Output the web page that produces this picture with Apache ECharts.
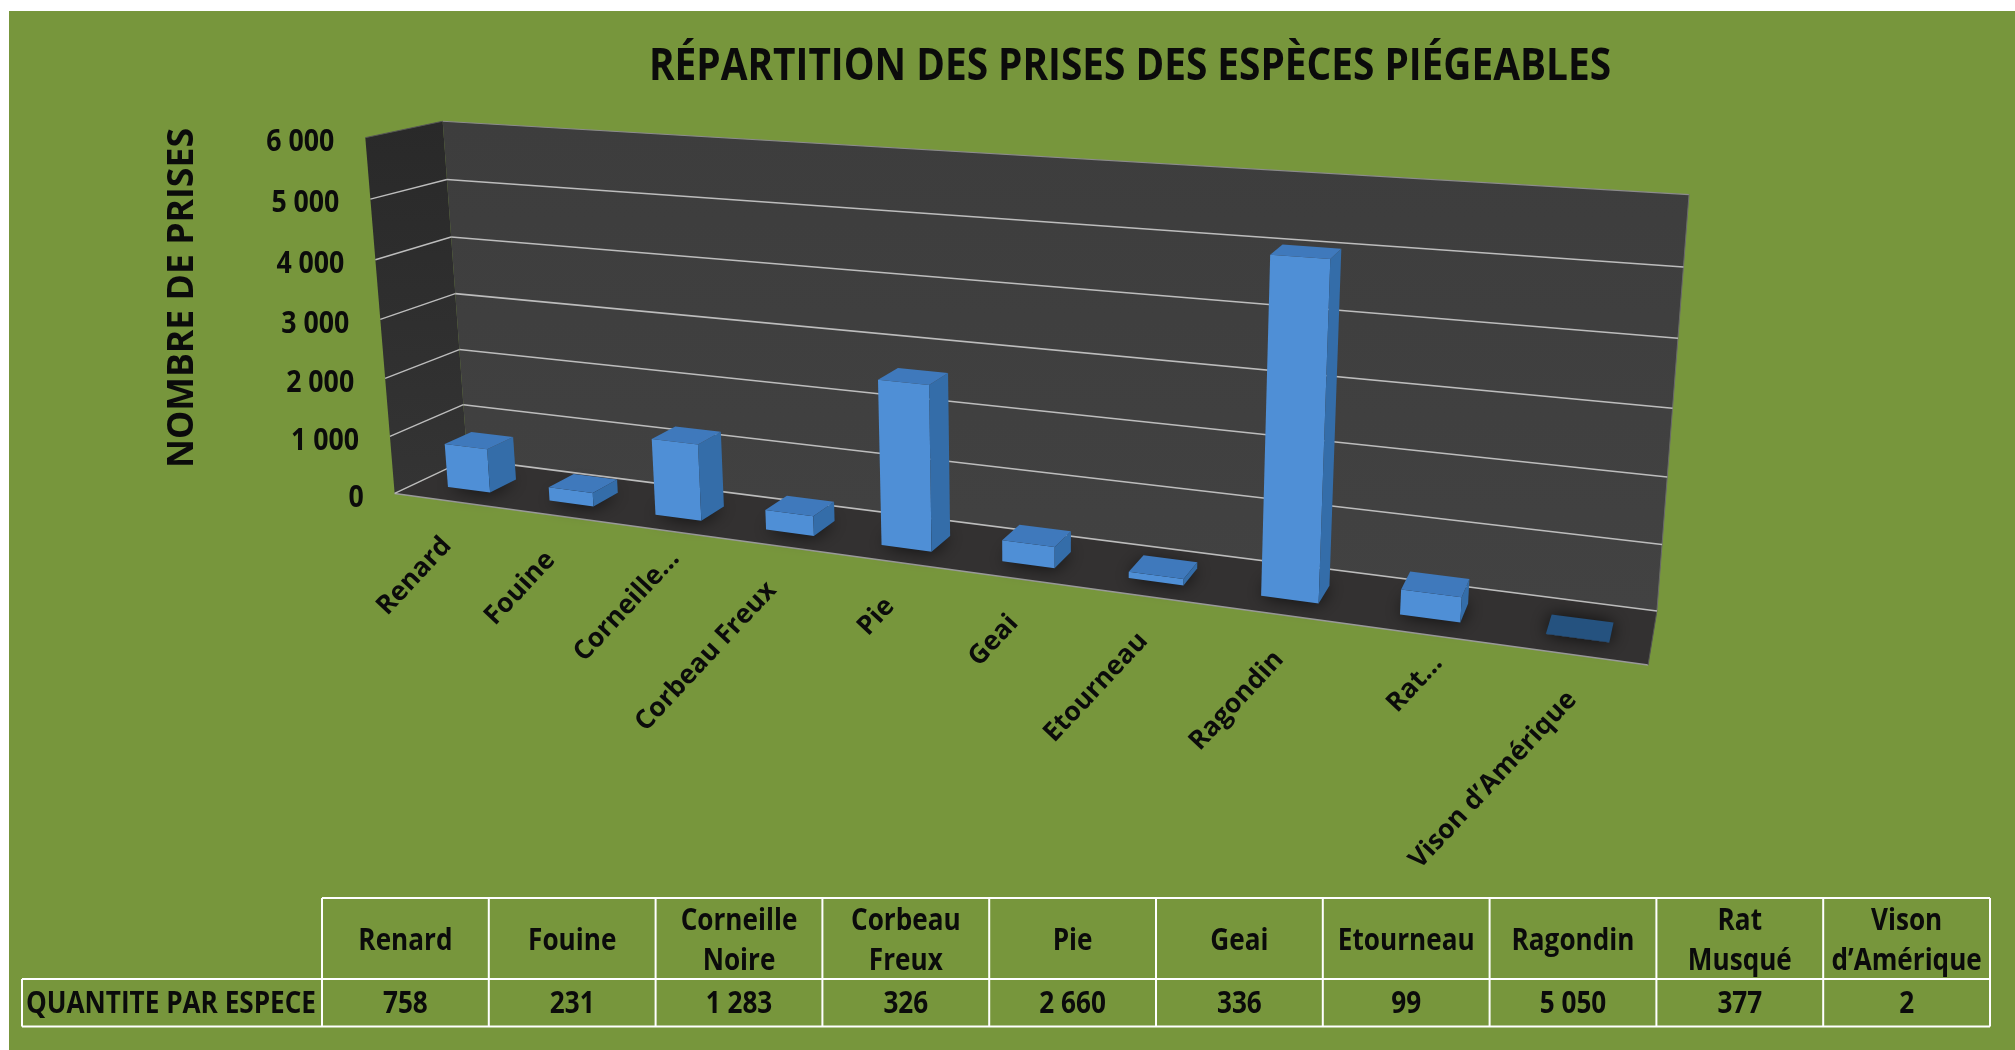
<!DOCTYPE html>
<html>
<head>
<meta charset="utf-8">
<script src="https://cdn.jsdelivr.net/npm/echarts@6/dist/echarts.min.js"></script>
<style>html,body{margin:0;padding:0;background:#fff}#c{width:2015px;height:1050px}</style>
</head>
<body>
<div id="c"></div>
<script>
// ---- data ----
var categories = ['Renard','Fouine','Corneille...','Corbeau Freux','Pie','Geai','Etourneau','Ragondin','Rat...','Vison d’Amérique'];
var tableHeaders = ['Renard','Fouine','Corneille\nNoire','Corbeau\nFreux','Pie','Geai','Etourneau','Ragondin','Rat\nMusqué','Vison\nd’Amérique'];
var values = [758,231,1283,326,2660,336,99,5050,377,2];
var yTicks = [0,1000,2000,3000,4000,5000,6000];
var titleText = 'RÉPARTITION DES PRISES DES ESPÈCES PIÉGEABLES';
var yName = 'NOMBRE DE PRISES';
var rowName = 'QUANTITE PAR ESPECE';

// ---- layout ----
var W = 2015, H = 1050;
var GRID = {left:443, top:121, width:1246, height:490};
var FONT = '"Open Sans",sans-serif';
var INK = '#0b0b0b';
var BAR_FRACTION = 0.42, BAR_SHIFT = 0.002, Z0 = 0.3, Z1 = 0.67;
// box corners (u, v, depth) → screen pixels, used to fit a perspective camera
var CALIB = [
  [0,1,0, 365,137.5],[0,1,1, 443,121.4],[0,0,0, 395,493.6],[0,0,1, 467,459],
  [1,1,1, 1689,194.6],[1,0,1, 1657,611],[1,0,0, 1648,665]
];
function fitCamera(pts){
  var A=[],b=[];
  pts.forEach(function(p){
    var X=p[0],Y=p[1],Z=p[2],x=p[3]/1000,y=p[4]/1000;
    A.push([X,Y,Z,1,0,0,0,0,-x*X,-x*Y,-x*Z]);b.push(x);
    A.push([0,0,0,0,X,Y,Z,1,-y*X,-y*Y,-y*Z]);b.push(y);
  });
  var n=11,M=[];
  for(var i=0;i<n;i++){M[i]=[];for(var j=0;j<=n;j++){var s=0;
    for(var k=0;k<A.length;k++)s+=A[k][i]*(j<n?A[k][j]:b[k]);
    M[i][j]=s;}}
  for(i=0;i<n;i++){var piv=i;for(k=i+1;k<n;k++)if(Math.abs(M[k][i])>Math.abs(M[piv][i]))piv=k;
    var t=M[i];M[i]=M[piv];M[piv]=t;
    for(k=0;k<n;k++){if(k===i)continue;var f=M[k][i]/M[i][i];for(j=i;j<=n;j++)M[k][j]-=f*M[i][j];}}
  var r=[];for(i=0;i<n;i++)r[i]=M[i][n]/M[i][i];return r;
}
var CAM = fitCamera(CALIB);
function P(u,v,z){
  var w=CAM[8]*u+CAM[9]*v+CAM[10]*z+1;
  return [1000*(CAM[0]*u+CAM[1]*v+CAM[2]*z+CAM[3])/w, 1000*(CAM[4]*u+CAM[5]*v+CAM[6]*z+CAM[7])/w];
}
var ctx=document.createElement('canvas').getContext('2d');
function fit(text,size,target){ // horizontal squeeze that gives text the width seen in the reference
  ctx.font='bold '+size+'px '+FONT;
  return target/ctx.measureText(text).width;
}
var TICK_SCALE = fit('6 000',31,68);
var CELL_SCALE = fit(rowName,30,290);
function fmt(v){return String(v).replace(/\B(?=(\d{3})+$)/g,' ');}
function normU(px){return (px-GRID.left)/GRID.width;}
function normV(py){return (GRID.top+GRID.height-py)/GRID.height;}
function poly(pts,fill,extra){
  var st={fill:fill};if(extra)for(var k in extra)st[k]=extra[k];
  return {type:'polygon',shape:{points:pts},style:st};
}
function line(a,b,color,w){
  return {type:'line',shape:{x1:a[0],y1:a[1],x2:b[0],y2:b[1]},style:{stroke:color,lineWidth:w,fill:null}};
}
function vGrad(c0,c1){return {type:'linear',x:0,y:0,x2:0,y2:1,colorStops:[{offset:0,color:c0},{offset:1,color:c1}]};}

function renderWalls(){
  return {type:'group',children:[
    poly([P(0,0,1),P(1,0,1),P(1,0,0),P(0,0,0)],'#333131'),
    poly([P(0,1,0),P(0,1,1),P(0,0,1),P(0,0,0)],vGrad('#292929','#343434')),
    poly([P(0,1,1),P(1,1,1),P(1,0,1),P(0,0,1)],vGrad('#3d3d3d','#424242')),
    line(P(0,1,1),P(1,1,1),'#8c8c8c',1.2),
    line(P(0,1,1),P(0,1,0),'#555555',1),
    line(P(1,1,1),P(1,0,1),'#6a6a6a',1),
    line(P(0,0,0),P(1,0,0),'#9a9a9a',1.6),
    line(P(1,0,0),P(1,0,1),'#555555',1)
  ]};
}
function renderGridLine(params,api){
  var tick=api.value(0), v=normV(api.coord([0,tick])[1]);
  var kids=[], front=P(0,v,0);
  if(tick<6000){
    kids.push(line(P(0,v,0),P(0,v,1),'#bdbdbd',1.4));
    kids.push(line(P(0,v,1),P(1,v,1),'#bdbdbd',1.6));
  }
  kids.push({type:'text',x:front[0]-31,y:front[1]+4.5,scaleX:TICK_SCALE,style:{
    text:fmt(tick),align:'right',verticalAlign:'middle',fill:INK,
    fontFamily:FONT,fontWeight:'bold',fontSize:31}});
  return {type:'group',children:kids};
}
function renderBar(params,api){
  var val=api.value(1), c=api.coord([api.value(0),val]);
  var half=api.size([1,0])[0]*BAR_FRACTION/2/GRID.width;
  var uc=normU(c[0])+BAR_SHIFT, v=normV(c[1]), a=uc-half, b=uc+half;
  var topColor = val<10 ? '#25527f' : '#3f79bc';
  return {type:'group',children:[
    poly([P(a,0,Z0),P(b,0,Z0),P(b,0,Z1),P(a,0,Z1)],'#1c1c1c',{shadowBlur:18,shadowColor:'rgba(0,0,0,0.75)'}),
    poly([P(a,0,Z0),P(b,0,Z0),P(b,v,Z0),P(a,v,Z0)],'#4f8fd6'),
    poly([P(b,0,Z0),P(b,0,Z1),P(b,v,Z1),P(b,v,Z0)],'#346da9'),
    poly([P(a,v,Z0),P(b,v,Z0),P(b,v,Z1),P(a,v,Z1)],topColor)
  ]};
}
function renderCatLabel(params,api){
  var c=api.coord([api.value(0),0]), p=P(normU(c[0]),0,0);
  var text=categories[api.value(0)];
  var cut=/\.\.\.$/.test(text) ? 16 : 0; // truncated labels sit further up the slope
  return {type:'text',x:p[0]+2+cut,y:p[1]+41-cut,rotation:47*Math.PI/180,style:{
    text:text,align:'right',verticalAlign:'middle',fill:INK,
    fontFamily:FONT,fontWeight:'bold',fontSize:26.5}};
}

// table
var T = {x0:22,x1:322,step:166.8,y0:898,y1:979,y2:1026.5};
function tableGraphics(){
  var g=[],n=categories.length,right=T.x1+n*T.step;
  function hl(x1,y1,x2,y2){g.push({type:'line',shape:{x1:x1,y1:y1,x2:x2,y2:y2},style:{stroke:'#ffffff',lineWidth:2},z:5});}
  function tx(x,y,s,ali){g.push({type:'text',x:x,y:y,z:6,scaleX:CELL_SCALE,style:{text:s,align:ali||'center',verticalAlign:'middle',
    fill:INK,fontFamily:FONT,fontWeight:'bold',fontSize:30,lineHeight:40}});}
  hl(T.x1,T.y0,right,T.y0);hl(T.x0,T.y1,right,T.y1);hl(T.x0,T.y2,right,T.y2);
  hl(T.x0,T.y1,T.x0,T.y2);
  for(var i=0;i<=n;i++)hl(T.x1+i*T.step,T.y0,T.x1+i*T.step,T.y2);
  tx(T.x0+4,(T.y1+T.y2)/2+2,rowName,'left');
  for(i=0;i<n;i++){
    var cx=T.x1+(i+.5)*T.step;
    tx(cx,(T.y0+T.y1)/2+2.5,tableHeaders[i]);
    tx(cx,(T.y1+T.y2)/2+2,fmt(values[i]));
  }
  return g;
}

var chart=echarts.init(document.getElementById('c'),null,{renderer:'canvas',width:W,height:H});
chart.setOption({
  animation:false,
  backgroundColor:'#ffffff',
  grid:GRID,
  xAxis:{type:'category',data:categories,show:false},
  yAxis:{type:'value',min:0,max:6000,interval:1000,show:false},
  graphic:[
    {type:'rect',z:-10,shape:{x:9,y:11,width:W-9,height:H-11},style:{fill:'#77963c'}},
    {type:'text',x:1130,y:67,z:6,scaleX:fit(titleText,45,962),style:{text:titleText,align:'center',verticalAlign:'middle',
      fill:INK,fontFamily:FONT,fontWeight:'bold',fontSize:45}},
    {type:'text',x:183,y:298,rotation:Math.PI/2,z:6,scaleX:fit(yName,35,340),style:{text:yName,align:'center',verticalAlign:'middle',
      fill:INK,fontFamily:FONT,fontWeight:'bold',fontSize:35}}
  ].concat(tableGraphics()),
  series:[
    {type:'custom',name:'walls',z:1,clip:false,silent:true,renderItem:renderWalls,data:[[0]]},
    {type:'custom',name:'grid',z:2,clip:false,silent:true,renderItem:renderGridLine,data:yTicks.map(function(t){return [t];}),encode:{y:0}},
    {type:'custom',name:'Quantité',z:3,clip:false,renderItem:renderBar,data:values.map(function(v,i){return [i,v];}),encode:{x:0,y:1}},
    {type:'custom',name:'labels',z:4,clip:false,silent:true,renderItem:renderCatLabel,data:categories.map(function(c,i){return [i];}),encode:{x:0}}
  ]
});
</script>
</body>
</html>
